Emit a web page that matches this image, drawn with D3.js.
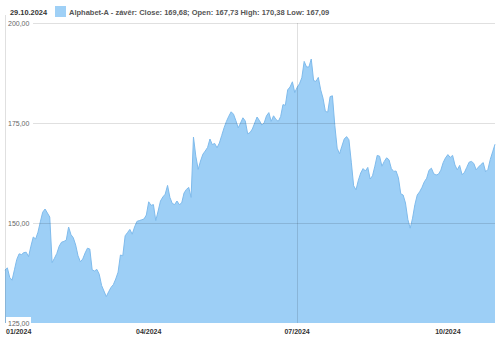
<!DOCTYPE html>
<html>
<head>
<meta charset="utf-8">
<script src="https://cdn.jsdelivr.net/npm/d3@7"></script>
<style>
  body { margin: 0; background: #fff; }
  svg { display: block; font-family: "Liberation Sans", Arial, sans-serif; }
</style>
</head>
<body>
<div class="chart"></div>
<script>
/* daily closes of Alphabet-A, one per trading day, 02.01.2024 - 29.10.2024 */
const closes = [
  138.2, 138.8, 136.4, 135.7, 138.3, 140.9, 142.3, 142.1, 142.6, 142.7,
  141.6, 144.2, 146.5, 146.0, 147.7, 150.3, 152.7, 153.5, 152.5, 151.5,
  140.1, 141.2, 142.4, 144.2, 145.2, 145.4, 145.7, 149.0, 147.1, 146.3,
  144.5, 141.8, 140.3, 141.0, 142.5, 143.7, 143.5, 138.3, 138.0, 138.4,
  137.2, 134.4, 133.0, 131.6, 132.8, 133.9, 134.6, 136.0, 137.7, 142.0,
  141.8, 146.8, 147.6, 148.4, 147.2, 149.0, 150.4, 150.6, 150.8, 151.0,
  152.0, 155.3, 154.4, 154.6, 150.6, 153.0, 155.5, 156.5, 157.2, 159.4,
  156.4, 154.9, 154.6, 155.5, 154.6, 155.0, 157.5, 158.4, 158.9, 156.4,
  171.5, 166.7, 163.4, 165.5, 167.2, 168.0, 168.9, 171.0, 169.6, 169.9,
  168.8, 170.0, 171.9, 173.8, 175.4, 176.7, 177.8, 177.2, 175.6, 173.8,
  175.0, 176.3, 175.5, 172.3, 172.6, 173.5, 175.0, 176.5, 175.6, 174.5,
  175.0, 176.8, 177.6, 175.4, 176.8, 175.9, 175.4, 176.6, 179.6, 179.4,
  183.3, 184.0, 185.3, 182.6, 183.9, 184.8, 186.3, 190.4, 189.0, 189.0,
  191.0, 185.6, 185.4, 186.4, 183.3, 181.2, 177.9, 177.7, 181.6, 181.8,
  174.4, 168.7, 167.3, 169.2, 171.0, 171.6, 170.8, 165.2, 159.3, 158.3,
  160.7, 162.5, 163.6, 163.0, 163.9, 161.0, 161.8, 164.2, 166.9, 166.7,
  164.2, 165.4, 166.3, 165.8, 163.6, 162.9, 163.0, 161.3, 157.3, 157.0,
  155.0, 150.9, 148.7, 151.2, 154.6, 157.0, 157.8, 158.9, 160.3, 161.2,
  163.2, 163.7, 162.3, 162.0, 162.2, 163.2, 165.1, 166.3, 167.1, 166.4,
  166.9, 164.5, 163.3, 164.4, 162.1, 162.6, 163.9, 165.2, 165.4, 164.9,
  163.3, 164.0, 164.6, 165.1, 162.8, 163.4, 165.9, 167.8, 169.68
];

/* month ticks: first trading day index of the month */
const monthTickIndex = [0, 61, 124, 188];
const monthTickLabels = ["01/2024", "04/2024", "07/2024", "10/2024"];
/* vertical grid only at half years */
const halfYearIndex = [0, 124];

const yTicks = [125, 150, 175, 200];
const headerDate = "29.10.2024";
const legendText = "Alphabet-A - závěr: Close: 169,68; Open: 167,73 High: 170,38 Low: 167,09";

const width = 500, height = 339;
const margin = {top: 23, right: 5, bottom: 16, left: 5};

const svg = d3.select(".chart").append("svg")
  .attr("width", width)
  .attr("height", height);

const x = d3.scaleLinear()
  .domain([0, closes.length - 1])
  .range([margin.left, width - margin.right]);

const y = d3.scaleLinear()
  .domain([125, 200])
  .range([height - margin.bottom, margin.top]);

/* header: date + legend */
svg.append("text")
  .attr("x", 10).attr("y", 14.5)
  .attr("font-size", 7.4).attr("font-weight", "bold")
  .attr("fill", "#333")
  .text(headerDate);

svg.append("rect")
  .attr("x", 55).attr("y", 6)
  .attr("width", 11).attr("height", 11)
  .attr("fill", "#9fd0f6");

svg.append("text")
  .attr("x", 69).attr("y", 14.5)
  .attr("font-size", 7.5).attr("font-weight", "bold")
  .attr("fill", "#555")
  .text(legendText);

/* area */
const area = d3.area()
  .x((d, i) => x(i))
  .y0(y(125))
  .y1(d => y(d));

const line = d3.line()
  .x((d, i) => x(i))
  .y(d => y(d));

svg.append("path")
  .datum(closes)
  .attr("fill", "#9dcff6")
  .attr("d", area);

svg.append("path")
  .datum(closes)
  .attr("fill", "none")
  .attr("stroke", "#7fbbec")
  .attr("stroke-width", 1)
  .attr("d", line);

/* horizontal grid on top, faint */
svg.append("g")
  .selectAll("line")
  .data(yTicks.filter(d => d > 125))
  .enter().append("line")
  .attr("x1", 33).attr("x2", width - margin.right)
  .attr("y1", d => Math.round(y(d)) + 0.5)
  .attr("y2", d => Math.round(y(d)) + 0.5)
  .attr("stroke", "rgba(0,0,0,0.12)");

/* vertical grid */
svg.append("g")
  .selectAll("line")
  .data(halfYearIndex)
  .enter().append("line")
  .attr("x1", d => Math.round(x(d)) + 0.5)
  .attr("x2", d => Math.round(x(d)) + 0.5)
  .attr("y1", d => d === 0 ? 15 : margin.top)
  .attr("y2", y(125))
  .attr("stroke", "rgba(0,0,0,0.12)");

/* y labels with white boxes */
const yLab = svg.append("g")
  .selectAll("g")
  .data(yTicks)
  .enter().append("g")
  .attr("transform", d => `translate(8, ${Math.round(y(d))})`);

yLab.filter(d => d === 125).append("rect")
  .attr("x", -2).attr("y", -6)
  .attr("width", 25).attr("height", 11)
  .attr("fill", "#fff");

yLab.append("text")
  .attr("y", 2.5)
  .attr("font-size", 7)
  .attr("fill", "#666")
  .text(d => d3.format(".2f")(d).replace(".", ","));

/* x axis labels */
svg.append("g")
  .selectAll("text")
  .data(monthTickIndex)
  .enter().append("text")
  .attr("x", (d, i) => i === 0 ? 6 : x(d))
  .attr("y", 334)
  .attr("text-anchor", (d, i) => i === 0 ? "start" : "middle")
  .attr("font-size", 7)
  .attr("font-weight", "bold")
  .attr("fill", "#333")
  .text((d, i) => monthTickLabels[i]);
</script>
</body>
</html>
